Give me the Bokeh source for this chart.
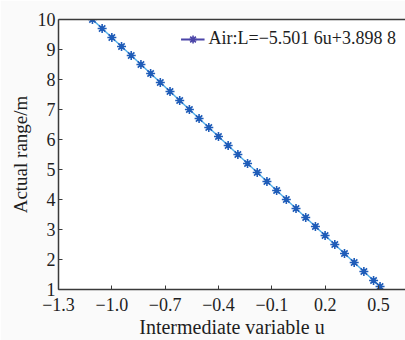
from bokeh.plotting import figure
from bokeh.models import (ColumnDataSource, FixedTicker, LinearAxis, Legend, LegendItem, Range1d)
from bokeh.embed import file_html
from bokeh.resources import INLINE

# Data: actual range L (m) vs intermediate variable u
actual_range = [10.0, 9.7, 9.4, 9.1, 8.8, 8.5, 8.2, 7.9, 7.6, 7.3, 7.0, 6.7, 6.4, 6.1,
                5.8, 5.5, 5.2, 4.9, 4.6, 4.3, 4.0, 3.7, 3.4, 3.1, 2.8, 2.5, 2.2, 1.9,
                1.6, 1.3, 1.1]
u_values = [-1.1090, -1.0545, -0.9999, -0.9454, -0.8909, -0.8363, -0.7818, -0.7273,
            -0.6727, -0.6182, -0.5637, -0.5092, -0.4546, -0.4001, -0.3456, -0.2910,
            -0.2365, -0.1820, -0.1275, -0.0729, -0.0184, 0.0361, 0.0907, 0.1452,
            0.1997, 0.2543, 0.3088, 0.3633, 0.4178, 0.4724, 0.5088]
x_ticks = [-1.3, -1.0, -0.7, -0.4, -0.1, 0.2, 0.5]
x_tick_labels = ["\u22121.3", "\u22121.0", "\u22120.7", "\u22120.4", "\u22120.1", "0.2", "0.5"]
y_ticks = [1, 2, 3, 4, 5, 6, 7, 8, 9, 10]
legend_label = "Air:L=\u22125.501 6u+3.898 8"

FONT = "Liberation Serif"
AXIS_COLOR = "#3a3a3a"
TEXT = "#1e1e1e"
NAN = float("nan")

src = ColumnDataSource(dict(u=u_values, L=actual_range))

p = figure(width=405, height=340, output_backend="svg", toolbar_location=None,
           x_range=Range1d(-1.3, 0.652), y_range=Range1d(1, 10),
           min_border_left=58, min_border_right=0, min_border_top=19, min_border_bottom=51,
           background_fill_color="white", border_fill_color="#fafafa",
           outline_line_color=None)
p.grid.visible = False

p.line("u", "L", source=src, line_color="#56b0e8", line_width=1.5)
p.scatter("u", "L", source=src, marker="asterisk", size=9, line_color="#1f5cb8", line_width=1.6)

# legend renderers (styling only)
leg_src = ColumnDataSource(dict(x=[NAN], y=[NAN]))
lr = p.line("x", "y", source=leg_src, line_color="#4b45a8", line_width=2)
ls = p.scatter("x", "y", source=leg_src, marker="asterisk", size=7, line_color="#4b45a8", line_width=1.6)
legend = Legend(items=[LegendItem(label=legend_label, renderers=[lr, ls])],
                location="top_right", border_line_color=None, background_fill_alpha=0,
                label_text_font=FONT, label_text_font_size="18px", label_text_color=TEXT,
                glyph_width=24, label_standoff=4, margin=9, padding=5)
p.add_layout(legend, "center")

for ax in (p.xaxis[0], p.yaxis[0]):
    ax.axis_line_color = AXIS_COLOR
    ax.axis_line_width = 1.5
    ax.major_tick_line_color = AXIS_COLOR
    ax.major_tick_in = 4
    ax.major_tick_out = 0
    ax.minor_tick_line_color = None
    ax.major_label_text_font = FONT
    ax.major_label_text_font_size = "18px"
    ax.major_label_text_color = TEXT
    ax.axis_label_text_font = FONT
    ax.axis_label_text_font_style = "normal"
    ax.axis_label_text_color = TEXT

p.xaxis[0].ticker = FixedTicker(ticks=x_ticks)
p.xaxis[0].major_label_overrides = {t: s for t, s in zip(x_ticks, x_tick_labels)}
p.xaxis[0].axis_label = "Intermediate variable u"
p.xaxis[0].axis_label_text_font_size = "20px"
p.xaxis[0].major_label_standoff = 8
p.xaxis[0].axis_label_standoff = 2

p.yaxis[0].ticker = FixedTicker(ticks=y_ticks)
p.yaxis[0].axis_label = "Actual range/m"
p.yaxis[0].axis_label_text_font_size = "19px"
p.yaxis[0].major_label_standoff = 3
p.yaxis[0].axis_label_standoff = 4

top = LinearAxis(major_tick_line_color=None, minor_tick_line_color=None,
                 major_label_text_font_size="0px", axis_line_color=AXIS_COLOR,
                 axis_line_width=1.5)
top.ticker = FixedTicker(ticks=[])
p.add_layout(top, "above")

open("out.html", "w").write(file_html(p, INLINE))
